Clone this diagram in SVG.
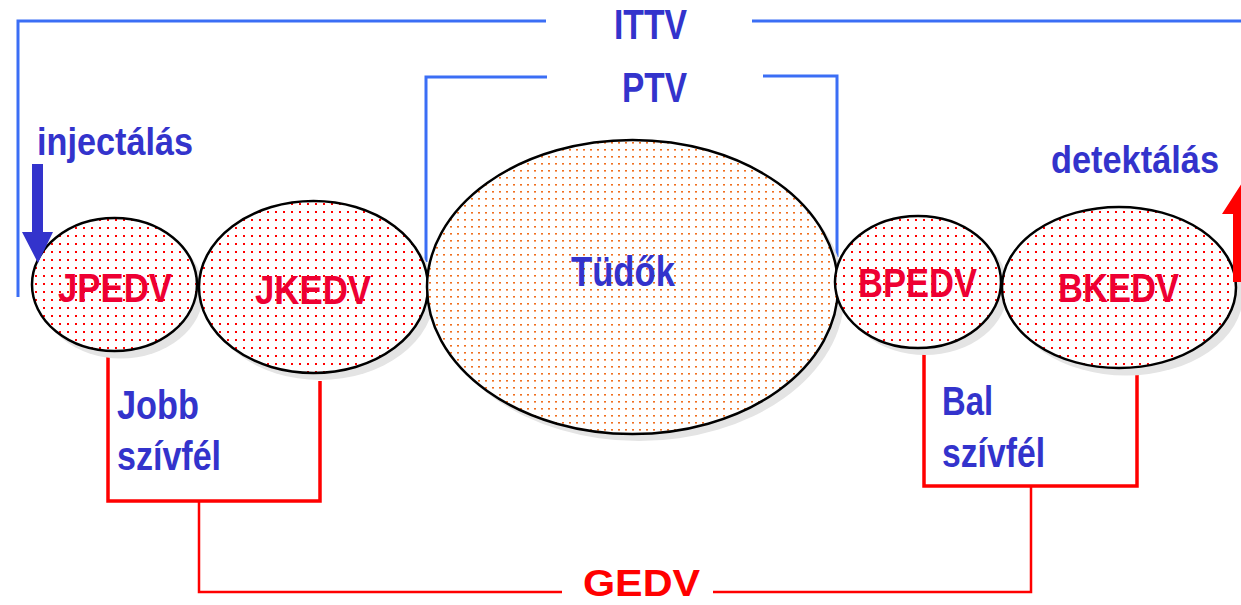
<svg xmlns="http://www.w3.org/2000/svg" width="1241" height="605" viewBox="0 0 1241 605">
<defs>
<pattern id="redDots" width="8" height="8" patternUnits="userSpaceOnUse">
<rect width="8" height="8" fill="#fff"/>
<rect x="3" y="3" width="2" height="2" fill="#ff0000"/>
</pattern>
<pattern id="orangeDots" width="7" height="7" patternUnits="userSpaceOnUse">
<rect width="7" height="7" fill="#fff"/>
<rect x="2" y="2" width="2" height="1.6" fill="#f07020"/>
</pattern>
<style>
.sh{fill:#e4e4e4;stroke:none}
.red{fill:url(#redDots);stroke:#000;stroke-width:2.5}
.org{fill:url(#orangeDots);stroke:#000;stroke-width:2.5}
.blue{fill:none;stroke:#3b6ef5;stroke-width:3}
.rl{fill:none;stroke:#ff0000;stroke-width:3.5}
.rt{fill:none;stroke:#ff0000;stroke-width:2.5}
text{font-family:"Liberation Sans",Arial,sans-serif;font-weight:bold}
.bt{fill:#3333cc}
.nt{fill:#ee0033}
.gt{fill:#ff0000}
</style>
</defs>
<rect width="1241" height="605" fill="#fff"/>
<g id="connectors">
<path class="blue" d="M18,297 V21 H546 M752,21 H1241"/>
<path class="blue" d="M426,262 V77 H547 M763,76 H837 V257"/>
<path class="rl" d="M108,350 V501 H320 V381"/>
<path class="rl" d="M924,350 V486 H1137 V365"/>
<path class="rt" d="M199,501 V592 H562 M713,592 H1031 V486"/>
</g>
<g id="JPEDV">
<ellipse class="sh" cx="121" cy="292" rx="82.5" ry="66.5"/>
<ellipse class="red" cx="114.5" cy="284.5" rx="82.5" ry="66.5"/>
<text class="nt" x="58" y="302" font-size="41" textLength="114" lengthAdjust="spacingAndGlyphs">JPEDV</text>
</g>
<g id="JKEDV">
<ellipse class="sh" cx="320" cy="294" rx="114.5" ry="86"/>
<ellipse class="red" cx="313.5" cy="287" rx="114.5" ry="86"/>
<text class="nt" x="255" y="304" font-size="41" textLength="116" lengthAdjust="spacingAndGlyphs">JKEDV</text>
</g>
<g id="Tudok">
<ellipse class="sh" cx="639" cy="294" rx="205.5" ry="147"/>
<ellipse class="org" cx="632.5" cy="287" rx="205.5" ry="147"/>
<text class="bt" x="571" y="286" font-size="42" textLength="104" lengthAdjust="spacingAndGlyphs">Tüdők</text>
</g>
<g id="BPEDV">
<ellipse class="sh" cx="925" cy="289" rx="83" ry="66"/>
<ellipse class="red" cx="918" cy="282" rx="83" ry="66"/>
<text class="nt" x="858" y="297" font-size="41" textLength="119" lengthAdjust="spacingAndGlyphs">BPEDV</text>
</g>
<g id="BKEDV">
<ellipse class="sh" cx="1126" cy="295" rx="117" ry="80.5"/>
<ellipse class="red" cx="1119" cy="287.5" rx="117" ry="80.5"/>
<text class="nt" x="1058" y="302" font-size="41" textLength="121" lengthAdjust="spacingAndGlyphs">BKEDV</text>
</g>
<g id="ITTV"><text class="bt" x="614" y="39" font-size="42" textLength="73" lengthAdjust="spacingAndGlyphs">ITTV</text></g>
<g id="PTV"><text class="bt" x="622" y="102" font-size="42" textLength="65" lengthAdjust="spacingAndGlyphs">PTV</text></g>
<g id="injectalas">
<text class="bt" x="37" y="155" font-size="38" textLength="156" lengthAdjust="spacingAndGlyphs">injectálás</text>
<polygon fill="#3333cc" points="32,164 43,164 43,232 53,232 38,263 22,232 32,232"/>
</g>
<g id="detektalas">
<text class="bt" x="1051" y="173" font-size="38" textLength="168" lengthAdjust="spacingAndGlyphs">detektálás</text>
<polygon fill="#ff0000" points="1242,183 1262,214 1251,214 1251,282 1233,282 1233,214 1222,214"/>
</g>
<g id="Jobb">
<text class="bt" x="117" y="419" font-size="41" textLength="82" lengthAdjust="spacingAndGlyphs">Jobb</text>
<text class="bt" x="117" y="470" font-size="41" textLength="104" lengthAdjust="spacingAndGlyphs">szívfél</text>
</g>
<g id="Bal">
<text class="bt" x="942" y="415" font-size="41" textLength="51" lengthAdjust="spacingAndGlyphs">Bal</text>
<text class="bt" x="942" y="467" font-size="41" textLength="103" lengthAdjust="spacingAndGlyphs">szívfél</text>
</g>
<g id="GEDV"><text class="gt" x="583" y="596" font-size="37" textLength="117" lengthAdjust="spacingAndGlyphs">GEDV</text></g>
</svg>
